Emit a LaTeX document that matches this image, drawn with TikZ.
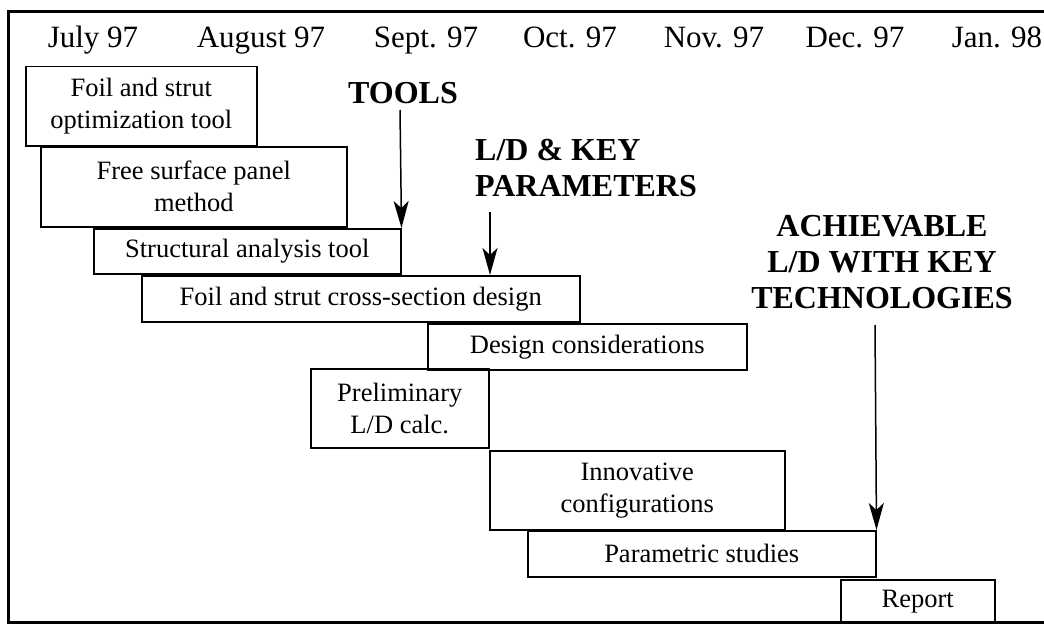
\documentclass[tikz,border=0pt]{standalone}
\usepackage{fontspec}
\setmainfont{Liberation Serif}
\usetikzlibrary{arrows.meta}
\tikzset{
  box/.style={draw, line width=1.5pt, anchor=north west, inner sep=0pt, align=center,
    font=\fontsize{26.5}{32}\selectfont},
  month/.style={anchor=base, inner sep=0pt, font=\fontsize{31}{36}\selectfont},
  milestone/.style={inner sep=0pt, font=\fontsize{32}{36}\selectfont\bfseries},
  arr/.style={line width=1.5pt, -{Stealth[length=27pt,width=15pt,inset=7pt]}},
  frame/.style={line width=3pt}
}
\begin{document}
\begin{tikzpicture}[x=1pt,y=-1pt]
\useasboundingbox (0,0) rectangle (1044,626);
% frame (open at the right, as in the reference)
\draw[frame] (1044,12) -- (8,12) -- (8,622) -- (1044,622);
% months
\node[month] (m1) at (93,48) {July 97};
\node[month] (m2) at (261,48) {August 97};
\node[month] (m3) at (426,48) {Sept. 97};
\node[month] (m4) at (570,48) {Oct. 97};
\node[month] (m5) at (714,48) {Nov. 97};
\node[month] (m6) at (855,48) {Dec. 97};
\node[month] (m7) at (997,48) {Jan. 98};
% tasks
\node[box, minimum width=231pt, minimum height=79pt] (s1) at (25,66) {Foil and strut\\optimization tool};
\node[box, minimum width=306pt, minimum height=80pt] (s2) at (40,146) {Free surface panel\\method};
\node[box, minimum width=307pt, minimum height=45pt] (s3) at (93,228) {Structural analysis tool};
\node[box, minimum width=438pt, minimum height=46pt] (s4) at (141,275) {Foil and strut cross-section design};
\node[box, minimum width=319pt, minimum height=46pt] (s5) at (427,323) {Design considerations};
\node[box, minimum width=178pt, minimum height=79pt] (s6) at (310,368) {Preliminary\\L/D calc.};
\node[box, minimum width=295pt, minimum height=79pt] (s7) at (489,450) {Innovative\\configurations};
\node[box, minimum width=348pt, minimum height=46pt] (s8) at (527,530) {Parametric studies};
\node[box, minimum width=154pt, minimum height=43pt] (s9) at (840,579) {Report};
% milestones
\node[milestone, anchor=base] (t1) at (403,103) {TOOLS};
\node[milestone, anchor=west, align=left] (t2) at (475,168) {L/D \& KEY\\PARAMETERS};
\node[milestone, anchor=center, align=center] (t3) at (882,262) {ACHIEVABLE\\L/D WITH KEY\\TECHNOLOGIES};
\coordinate (a1) at (400,110);
\coordinate (a2) at (490,212);
\coordinate (a3) at (875,325);
\draw[arr] (a1) -- (s3.north east);
\draw[arr] (a2) -- (a2 |- s4.north);
\draw[arr] (a3) -- (s8.north east);
\end{tikzpicture}
\end{document}
